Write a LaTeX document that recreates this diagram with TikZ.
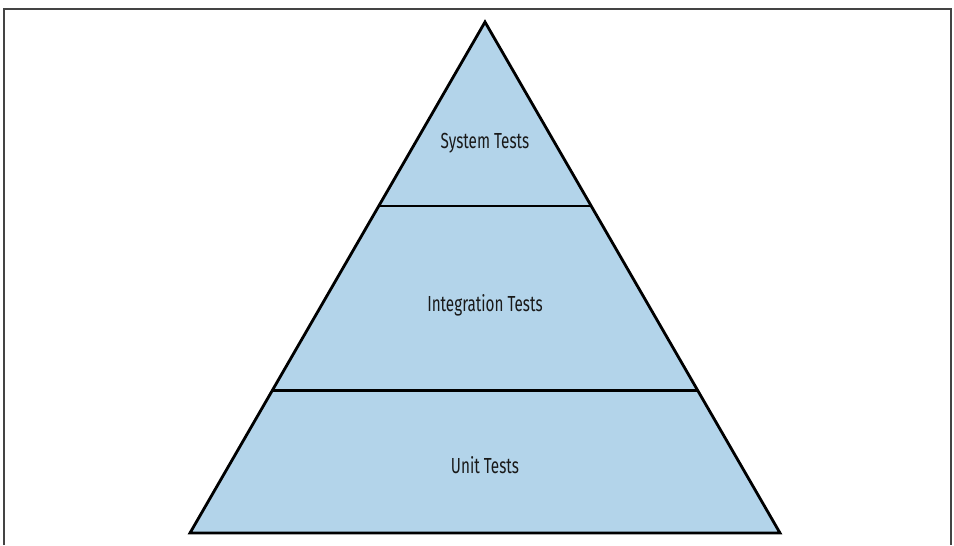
\documentclass[tikz,border=0pt]{standalone}
\usepackage{fontspec}
\setmainfont{Fira Sans}[FakeStretch=0.7]
\definecolor{pyrfill}{HTML}{B3D4EA}
\definecolor{framegray}{HTML}{444444}
\begin{document}
\begin{tikzpicture}[x=0.01cm,y=-0.01cm,
  edge/.style={line width=0.8pt,line join=miter,black},
  lbl/.style={font=\fontsize{6.2}{7}\selectfont,text=black!90}]
\useasboundingbox (0,0) rectangle (954,545);
\draw[framegray,line width=0.5pt] (4,545) -- (4,9) -- (951,9) -- (951,545);
\coordinate (apex) at (485,22);
\coordinate (bl) at (190,533);
\coordinate (br) at (780,533);
\fill[pyrfill] (apex) -- (bl) -- (br) -- cycle;
\path (apex) -- (bl) coordinate[pos=0.3601] (a1) coordinate[pos=0.7215] (a2);
\path (apex) -- (br) coordinate[pos=0.3601] (b1) coordinate[pos=0.7215] (b2);
\draw[edge] (a1) -- (b1);
\draw[edge] (a2) -- (b2);
\draw[edge] (apex) -- (bl) -- (br) -- cycle;
\node[lbl] (sys) at (485,143) {System Tests};
\node[lbl] (int) at (485,305) {Integration Tests};
\node[lbl] (unit) at (485,465) {Unit Tests};
\end{tikzpicture}
\end{document}
